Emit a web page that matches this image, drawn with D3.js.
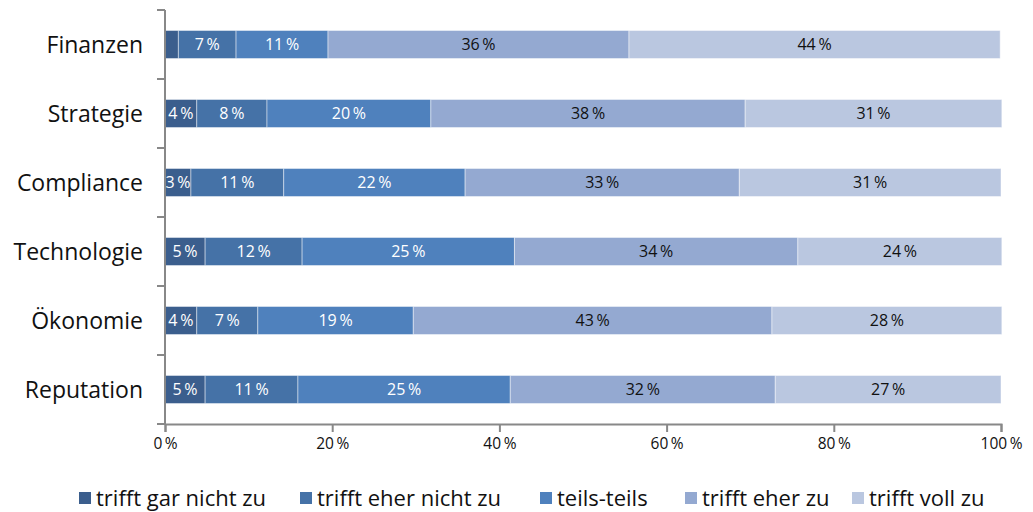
<!DOCTYPE html>
<html><head><meta charset="utf-8">
<script src="https://cdn.jsdelivr.net/npm/d3@7"></script>
<style>
html,body{margin:0;padding:0;background:#fff;}
svg{display:block;font-family:"Open Sans",sans-serif;}
</style></head>
<body>
<svg id="chart" width="1033" height="512"></svg>
<script>
const categories = ["Finanzen","Strategie","Compliance","Technologie","Ökonomie","Reputation"];
const seriesNames = ["trifft gar nicht zu","trifft eher nicht zu","teils-teils","trifft eher zu","trifft voll zu"];
const garNicht   = [1.6, 3.8, 3.1, 4.8, 3.8, 4.8];
const eherNicht  = [6.9, 8.4, 11.1, 11.6, 7.3, 11.1];
const teilsTeils = [11.0, 19.6, 21.7, 25.4, 18.6, 25.4];
const eherZu     = [36.0, 37.6, 32.8, 33.9, 42.9, 31.7];
const vollZu     = [44.4, 30.7, 31.3, 24.4, 27.5, 27.0];
const xTicks = [0, 20, 40, 60, 80, 100];

(function () {
const colors = ["#3b5e8d", "#4572a7", "#4f81bd", "#94a9d1", "#bac7e0"];
const textColors = ["#fff", "#fff", "#fff", "#111", "#111"];
const seriesValues = [garNicht, eherNicht, teilsTeils, eherZu, vollZu];

const table = categories.map((c, i) => {
  const o = {cat: c};
  seriesNames.forEach((s, k) => o[s] = seriesValues[k][i]);
  return o;
});

const svg = d3.select("#chart");
const mLeft = 165, mRight = 1001, mTop = 10, mBottom = 424;
const x = d3.scaleLinear().domain([0, 100]).range([mLeft, mRight]);
const y = d3.scaleBand().domain(categories).range([mTop, mBottom]).paddingInner(0.594).paddingOuter(0.297);

const stack = d3.stack().keys(seriesNames)(table);

const layers = svg.append("g").selectAll("g").data(stack).enter().append("g")
  .attr("fill", (d, k) => colors[k]);

layers.selectAll("rect").data(d => d).enter().append("rect")
  .attr("x", d => x(d[0]))
  .attr("y", d => y(d.data.cat))
  .attr("width", d => x(d[1]) - x(d[0]))
  .attr("height", y.bandwidth())
  .attr("stroke", "rgba(255,255,255,0.45)")
  .attr("stroke-width", 1);

stack.forEach((layer, k) => {
  svg.append("g").selectAll("text").data(layer.filter(d => (d[1] - d[0]) >= 2)).enter().append("text")
    .attr("x", d => x((d[0] + d[1]) / 2))
    .attr("y", d => y(d.data.cat) + y.bandwidth() / 2)
    .attr("dy", "0.36em")
    .attr("text-anchor", "middle")
    .attr("font-size", 16)
    .attr("fill", textColors[k])
    .text(d => Math.round(d[1] - d[0]) + "\u2009%");
});

// Y axis line + boundary ticks
const boundaries = d3.range(categories.length + 1).map(i => mTop + i * (mBottom - mTop) / categories.length);
svg.append("line").attr("x1", mLeft).attr("x2", mLeft).attr("y1", mTop).attr("y2", mBottom)
  .attr("stroke", "#888").attr("stroke-width", 2);
svg.append("g").selectAll("line").data(boundaries).enter().append("line")
  .attr("x1", mLeft - 8).attr("x2", mLeft).attr("y1", d => d).attr("y2", d => d)
  .attr("stroke", "#888").attr("stroke-width", 2);

// Category labels
svg.append("g").selectAll("text").data(categories).enter().append("text")
  .attr("x", 143)
  .attr("y", d => y(d) + y.bandwidth() / 2)
  .attr("dy", "0.36em")
  .attr("text-anchor", "end")
  .attr("font-size", 23)
  .attr("fill", "#111")
  .text(d => d);

// X axis
const xAxis = d3.axisBottom(x).tickValues(xTicks).tickSize(8).tickPadding(6)
  .tickFormat(d => d + "\u2009%");
const gx = svg.append("g").attr("transform", `translate(0,${mBottom})`).call(xAxis);
gx.select(".domain").attr("stroke", "#888").attr("stroke-width", 2);
gx.selectAll(".tick line").attr("stroke", "#888").attr("stroke-width", 2);
gx.selectAll(".tick text").attr("font-size", 15.5).attr("fill", "#111")
  .attr("font-family", "'Open Sans',sans-serif");

// Legend
const legendX = [79, 300, 540, 685, 852];
const lg = svg.append("g").selectAll("g").data(seriesNames).enter().append("g")
  .attr("transform", (d, i) => `translate(${legendX[i]},498)`);
lg.append("rect").attr("x", 0).attr("y", -6).attr("width", 12).attr("height", 12)
  .attr("fill", (d, i) => colors[i]);
lg.append("text").attr("x", 17).attr("y", 0).attr("dy", "0.36em")
  .attr("font-size", 22).attr("fill", "#111").text(d => d);
})();
</script>
</body></html>
